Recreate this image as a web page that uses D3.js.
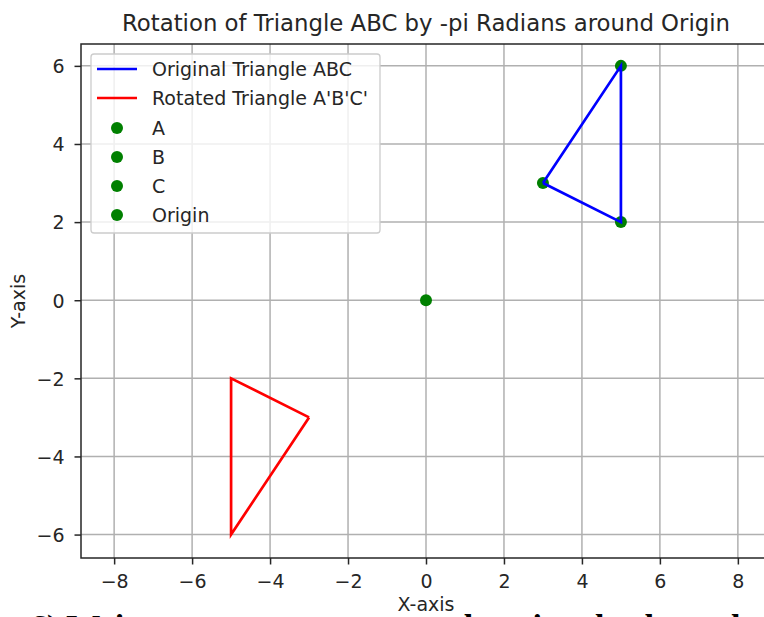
<!DOCTYPE html>
<html><head><meta charset="utf-8">
<script src="https://cdn.jsdelivr.net/npm/d3@7"></script>
<style>body{margin:0;background:#fff;overflow:hidden}svg{display:block}text{font-family:"DejaVu Sans",sans-serif;fill:#262626}</style>
</head><body>
<script>
// Data
const origLabels = ["A", "B", "C"];
const origX = [3, 5, 5];
const origY = [3, 6, 2];
const rotX = [-3, -5, -5];
const rotY = [-3, -6, -2];
const originPt = [0, 0];
const xTicks = [-8, -6, -4, -2, 0, 2, 4, 6, 8];
const yTicks = [-6, -4, -2, 0, 2, 4, 6];
const titleText = "Rotation of Triangle ABC by -pi Radians around Origin";

const W = 764, H = 617;
const FS = 19, FT = 22.8;
const svg = d3.select("body").append("svg").attr("width", W).attr("height", H);
const L = 81, R = 771, T = 44, B = 558;
const x = d3.scaleLinear().domain([-8.85, 8.85]).range([L, R]);
const y = d3.scaleLinear().domain([-6.6, 6.56]).range([B, T]);

// grid
const g = svg.append("g");
g.selectAll(".gx").data(xTicks).enter().append("line")
  .attr("x1", d => x(d)).attr("x2", d => x(d)).attr("y1", T).attr("y2", B)
  .attr("stroke", "#b0b0b0").attr("stroke-width", 1.5);
g.selectAll(".gy").data(yTicks).enter().append("line")
  .attr("y1", d => y(d)).attr("y2", d => y(d)).attr("x1", L).attr("x2", R)
  .attr("stroke", "#b0b0b0").attr("stroke-width", 1.5);

// triangles
const line = d3.line().x(d => x(d[0])).y(d => y(d[1]));
const origPts = origX.map((v, i) => [v, origY[i]]);
const rotPts = rotX.map((v, i) => [v, rotY[i]]);

// scatter points (below lines)
const dots = origPts.concat([originPt]);
svg.selectAll(".dot").data(dots).enter().append("circle")
  .attr("cx", d => x(d[0])).attr("cy", d => y(d[1])).attr("r", 6)
  .attr("fill", "#008000");

svg.append("path").attr("d", line(origPts.concat([origPts[0]])))
  .attr("fill", "none").attr("stroke", "#0000ff").attr("stroke-width", 2.7).attr("stroke-linejoin", "miter");
svg.append("path").attr("d", line(rotPts.concat([rotPts[0]])))
  .attr("fill", "none").attr("stroke", "#ff0000").attr("stroke-width", 2.7).attr("stroke-linejoin", "miter");

// axes
const fmt = d => d < 0 ? "\u2212" + Math.abs(d) : d;
const xAxis = d3.axisBottom(x).tickValues(xTicks).tickSize(6.5).tickPadding(5).tickFormat(fmt);
const yAxis = d3.axisLeft(y).tickValues(yTicks).tickSize(6.5).tickPadding(10).tickFormat(fmt);
const gx = svg.append("g").attr("transform", `translate(0,${B})`).call(xAxis);
const gy = svg.append("g").attr("transform", `translate(${L},0)`).call(yAxis);
[gx, gy].forEach(a => {
  a.select(".domain").remove();
  a.selectAll(".tick line").attr("stroke", "#262626").attr("stroke-width", 1.5);
  a.selectAll(".tick text").style("font-size", FS + "px").attr("fill", "#262626").style("font-family", '"DejaVu Sans",sans-serif');
});
gx.selectAll(".tick text").attr("dy", null).attr("y", 30);
gy.selectAll(".tick text").attr("dy", "0.36em");
// spines
svg.append("rect").attr("x", L).attr("y", T).attr("width", R - L).attr("height", B - T)
  .attr("fill", "none").attr("stroke", "#262626").attr("stroke-width", 1.5);

// title and labels
svg.append("text").attr("x", (L + R) / 2).attr("y", 31).attr("text-anchor", "middle")
  .style("font-size", FT + "px").text(titleText);
svg.append("text").attr("x", (L + R) / 2).attr("y", 611).attr("text-anchor", "middle")
  .style("font-size", FS + "px").text("X-axis");
svg.append("text").attr("transform", `translate(25,${(T + B) / 2}) rotate(-90)`).attr("text-anchor", "middle")
  .style("font-size", FS + "px").text("Y-axis");

// legend
const leg = svg.append("g");
leg.append("rect").attr("x", 91).attr("y", 54).attr("width", 289).attr("height", 179).attr("rx", 3)
  .attr("fill", "#fff").attr("fill-opacity", 0.8).attr("stroke", "#cccccc").attr("stroke-width", 1.3);
const legItems = [
  {label: "Original Triangle ABC", type: "line", color: "#0000ff"},
  {label: "Rotated Triangle A'B'C'", type: "line", color: "#ff0000"},
  {label: origLabels[0], type: "dot", color: "#008000"},
  {label: origLabels[1], type: "dot", color: "#008000"},
  {label: origLabels[2], type: "dot", color: "#008000"},
  {label: "Origin", type: "dot", color: "#008000"}
];
const rowY = [69, 98, 128, 157, 186, 215];
legItems.forEach((it, i) => {
  const cy = rowY[i];
  if (it.type === "line") {
    leg.append("line").attr("x1", 97).attr("x2", 137).attr("y1", cy).attr("y2", cy)
      .attr("stroke", it.color).attr("stroke-width", 2.7);
  } else {
    leg.append("circle").attr("cx", 117).attr("cy", cy).attr("r", 6).attr("fill", it.color);
  }
  leg.append("text").attr("x", 152).attr("y", cy + 7).style("font-size", FS + "px").text(it.label);
});

// cropped caption text from underlying page (only its top edge shows)
svg.append("text").attr("x", 30).attr("y", 638).style("font-family", '"Liberation Serif",serif')
  .style("font-size", "34px").style("font-weight", "bold").style("fill", "#000")
  .text("6) Write a program to rotate the triangle about the origin with");
</script>
</body></html>
